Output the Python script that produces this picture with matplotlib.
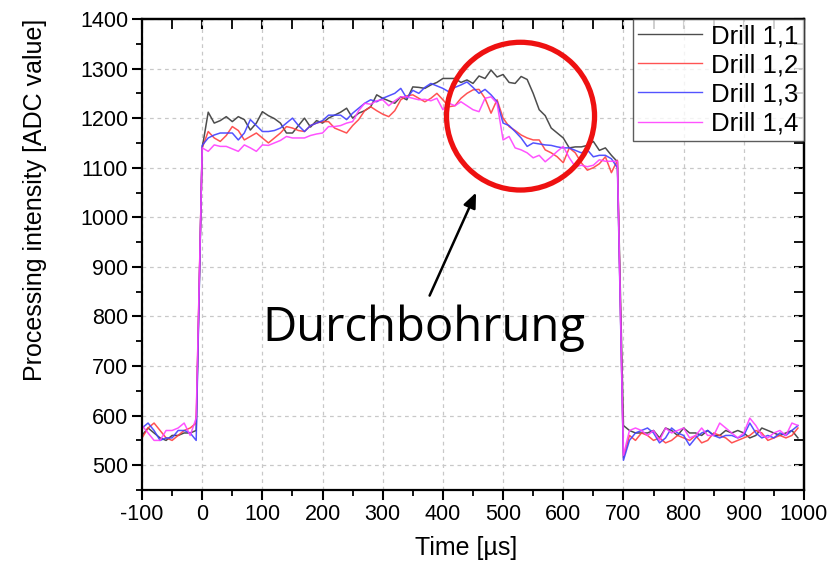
import matplotlib
matplotlib.use("Agg")
import matplotlib.pyplot as plt
from matplotlib.patches import Ellipse
from matplotlib.ticker import MultipleLocator

plt.rcParams['font.family'] = ['Liberation Sans', 'DejaVu Sans']
plt.rcParams['axes.unicode_minus'] = False

time_us = [-100, -90, -80, -70, -60, -50, -40, -30, -20, -10,
           0, 10, 20, 30, 40, 50, 60, 70, 80, 90,
           100, 110, 120, 130, 140, 150, 160, 170, 180, 190,
           200, 210, 220, 230, 240, 250, 260, 270, 280, 290,
           300, 310, 320, 330, 340, 350, 360, 370, 380, 390,
           400, 410, 420, 430, 440, 450, 460, 470, 480, 490,
           500, 510, 520, 530, 540, 550, 560, 570, 580, 590,
           600, 610, 620, 630, 640, 650, 660, 670, 680, 690,
           700, 710, 720, 730, 740, 750, 760, 770, 780, 790,
           800, 810, 820, 830, 840, 850, 860, 870, 880, 890,
           900, 910, 920, 930, 940, 950, 960, 970, 980, 990]

drill_1_1 = [560, 575, 565, 555, 550, 560, 560, 565, 565, 570,
             1140, 1212, 1190, 1195, 1203, 1193, 1203, 1197, 1176, 1190,
             1213, 1205, 1199, 1190, 1170, 1170, 1185, 1200, 1182, 1195,
             1190, 1200, 1206, 1212, 1220, 1200, 1210, 1215, 1223, 1247,
             1240, 1235, 1230, 1243, 1237, 1263, 1262, 1260, 1267, 1272,
             1280, 1280, 1280, 1272, 1277, 1270, 1285, 1280, 1297, 1283,
             1288, 1272, 1270, 1284, 1278, 1250, 1217, 1205, 1180, 1170,
             1160, 1140, 1142, 1142, 1145, 1153, 1135, 1140, 1125, 1112,
             580, 570, 565, 565, 565, 570, 555, 575, 570, 560,
             575, 565, 565, 560, 570, 560, 560, 570, 565, 570,
             565, 555, 560, 575, 570, 565, 560, 565, 570, 555]

drill_1_2 = [555, 575, 585, 570, 555, 550, 560, 570, 575, 585,
             1140, 1173, 1160, 1153, 1165, 1183, 1175, 1156, 1163, 1170,
             1160, 1150, 1160, 1170, 1183, 1180, 1175, 1173, 1185, 1190,
             1193, 1193, 1180, 1175, 1170, 1185, 1197, 1215, 1223, 1215,
             1208, 1203, 1215, 1237, 1245, 1247, 1240, 1233, 1240, 1250,
             1237, 1223, 1225, 1240, 1250, 1257, 1258, 1240, 1210, 1237,
             1200, 1183, 1175, 1166, 1160, 1156, 1156, 1136, 1130, 1122,
             1110, 1140, 1130, 1110, 1095, 1100, 1108, 1122, 1090, 1115,
             515, 560, 550, 565, 560, 550, 555, 545, 550, 560,
             555, 550, 560, 545, 550, 565, 560, 555, 545, 550,
             555, 560, 570, 565, 550, 555, 560, 555, 560, 575]

drill_1_3 = [575, 585, 570, 550, 555, 555, 570, 570, 565, 550,
             1145, 1160, 1166, 1170, 1170, 1170, 1156, 1170, 1197, 1185,
             1173, 1173, 1175, 1180, 1190, 1200, 1185, 1173, 1185, 1190,
             1195, 1206, 1206, 1206, 1197, 1210, 1220, 1230, 1237, 1233,
             1240, 1245, 1250, 1260, 1240, 1256, 1250, 1262, 1270, 1265,
             1260, 1253, 1262, 1267, 1273, 1262, 1250, 1258, 1247, 1233,
             1190, 1185, 1173, 1160, 1143, 1150, 1148, 1146, 1145, 1142,
             1140, 1140, 1135, 1130, 1136, 1122, 1125, 1125, 1118, 1100,
             510, 550, 565, 570, 575, 565, 545, 555, 575, 565,
             560, 540, 555, 565, 570, 560, 555, 560, 560, 555,
             560, 585, 565, 555, 560, 555, 565, 560, 570, 580]

drill_1_4 = [580, 565, 550, 550, 570, 570, 575, 585, 560, 595,
             1140, 1133, 1146, 1143, 1143, 1138, 1133, 1146, 1140, 1133,
             1146, 1145, 1150, 1155, 1163, 1160, 1160, 1160, 1165, 1168,
             1170, 1183, 1183, 1185, 1190, 1193, 1215, 1230, 1228, 1235,
             1237, 1225, 1235, 1243, 1243, 1240, 1237, 1238, 1235, 1240,
             1217, 1230, 1225, 1233, 1225, 1217, 1213, 1240, 1243, 1230,
             1156, 1163, 1140, 1136, 1130, 1120, 1125, 1112, 1122, 1133,
             1143, 1120, 1102, 1105, 1102, 1105, 1116, 1113, 1113, 1113,
             520, 570, 575, 570, 560, 570, 550, 575, 565, 570,
             575, 555, 560, 575, 560, 560, 585, 575, 565, 555,
             565, 595, 580, 560, 555, 565, 570, 560, 585, 580]

series_labels = ["Drill 1,1", "Drill 1,2", "Drill 1,3", "Drill 1,4"]
series_values = [drill_1_1, drill_1_2, drill_1_3, drill_1_4]
series_colors = ["#3a3a3a", "#ff4040", "#4040ff", "#ff40ff"]

fig = plt.figure(figsize=(8.32, 5.63), dpi=100)
ax = fig.add_axes([0.1707, 0.1297, 0.7956, 0.8366])

for lab, vals, col in zip(series_labels, series_values, series_colors):
    ax.plot(time_us, vals, color=col, lw=1.1, alpha=0.9, label=lab)

ax.set_xlim(-100, 1000)
ax.set_ylim(450, 1400)
ax.xaxis.set_major_locator(MultipleLocator(100))
ax.xaxis.set_minor_locator(MultipleLocator(50))
ax.yaxis.set_major_locator(MultipleLocator(100))
ax.yaxis.set_minor_locator(MultipleLocator(50))
ax.set_yticks(range(500, 1401, 100))
ax.grid(True, which='major', ls=(0, (3, 3)), color='#c8c8c8', lw=0.9)

for s in ax.spines.values():
    s.set_linewidth(1.6)

ax.tick_params(axis='both', which='major', direction='out', length=7, width=1.5,
               labelsize=15.5, pad=3)
ax.tick_params(axis='both', which='minor', direction='out', length=4, width=1.3)

secx = ax.secondary_xaxis('top')
secx.xaxis.set_major_locator(MultipleLocator(100))
secx.xaxis.set_minor_locator(MultipleLocator(50))
secx.tick_params(which='major', direction='in', length=7, width=1.5, labeltop=False)
secx.tick_params(which='minor', direction='in', length=7, width=1.3)
secx.spines['top'].set_linewidth(1.6)
secy = ax.secondary_yaxis('right')
secy.yaxis.set_major_locator(MultipleLocator(100))
secy.yaxis.set_minor_locator(MultipleLocator(50))
secy.tick_params(which='major', direction='in', length=7, width=1.5, labelright=False)
secy.tick_params(which='minor', direction='in', length=7, width=1.3)
secy.spines['right'].set_linewidth(1.6)

ax.set_xlabel("Time [µs]", fontsize=18)
ax.xaxis.set_label_coords(0.49, -0.098)
ax.set_ylabel("Processing intensity [ADC value]", fontsize=18)
ax.yaxis.set_label_coords(-0.143, 0.615)

leg = ax.legend(loc='upper right', borderaxespad=0, fontsize=18.5, frameon=True,
                fancybox=False, edgecolor='#333333', handlelength=2.5,
                labelspacing=0.2, borderpad=0.2, handletextpad=0.35)
leg.get_frame().set_linewidth(1.0)
for h in leg.get_lines():
    h.set_linewidth(1.0)

ax.add_patch(Ellipse((529, 1204), 246, 298, fill=False, edgecolor='#ee1111',
                     lw=3.8, zorder=5))
ax.annotate("", xy=(457, 1055), xytext=(376, 837),
            arrowprops=dict(arrowstyle='-|>,head_length=0.9,head_width=0.38',
                            color='black', lw=1.8), zorder=6)
ax.text(368, 777, "Durchbohrung", fontsize=34, family=['Open Sans', 'DejaVu Sans'],
        ha='center', va='center', color='black', zorder=6)

fig.savefig("out.png", dpi=100)
